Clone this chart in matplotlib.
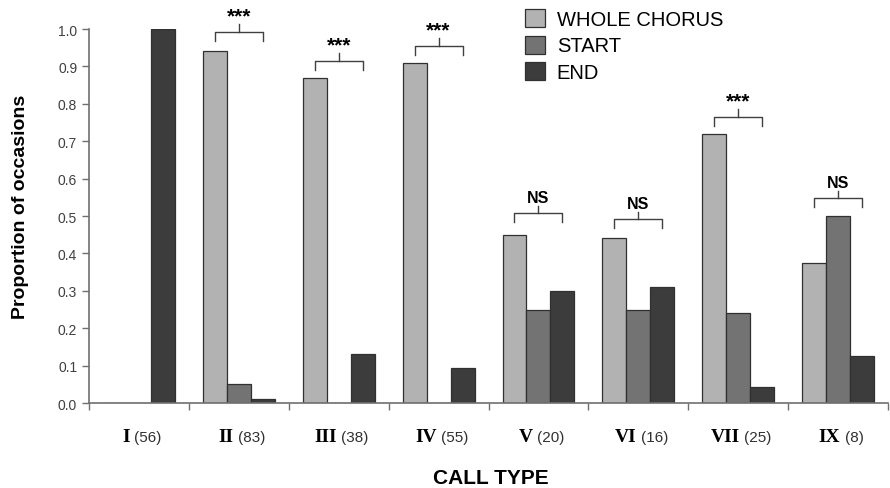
import numpy as np
import matplotlib.pyplot as plt
from matplotlib.offsetbox import TextArea, HPacker, AnnotationBbox

plt.rcParams['font.family'] = ['Liberation Sans', 'DejaVu Sans']

# call types, sample sizes and proportions
call_types = ['I', 'II', 'III', 'IV', 'V', 'VI', 'VII', 'IX']
n_calls = [56, 83, 38, 55, 20, 16, 25, 8]
whole_chorus = [0.0, 0.94, 0.868, 0.908, 0.45, 0.44, 0.72, 0.375]
start = [0.0, 0.05, 0.0, 0.0, 0.25, 0.25, 0.242, 0.50]
end = [1.0, 0.01, 0.13, 0.093, 0.30, 0.31, 0.042, 0.125]

# significance brackets: category index, level, label
sig_idx = [1, 2, 3, 4, 5, 6, 7]
sig_level = [0.993, 0.915, 0.955, 0.508, 0.492, 0.765, 0.548]
sig_text = ['***', '***', '***', 'NS', 'NS', '***', 'NS']

fig = plt.figure(figsize=(8.9, 4.89), dpi=100)
ax = fig.add_axes([0.1, 0.1738, 0.8978, 0.7648])

x = np.arange(len(call_types)) + 0.5
w = 0.24
ec = '#303030'
ax.bar(x - w, whole_chorus, w, color='#b2b2b2', edgecolor=ec, lw=0.9, label='WHOLE CHORUS')
ax.bar(x, start, w, color='#737373', edgecolor=ec, lw=0.9, label='START')
ax.bar(x + w, end, w, color='#3c3c3c', edgecolor=ec, lw=0.9, label='END')

# brackets from whole-chorus bar to end bar
for i, lev, txt in zip(sig_idx, sig_level, sig_text):
    x0, x1 = x[i] - w, x[i] + w
    ax.plot([x0, x0, x1, x1], [lev - 0.025, lev, lev, lev - 0.025],
            color='#404040', lw=1, clip_on=False)
    ax.plot([x[i], x[i]], [lev, lev + 0.02], color='#404040', lw=1, clip_on=False)
    if txt == 'NS':
        ax.text(x[i], lev + 0.022, txt, ha='center', va='bottom',
                fontsize=11.5, fontweight='bold')
    else:
        ax.text(x[i], lev + 0.018, txt, ha='center', va='bottom',
                fontsize=15, fontweight='bold')

ax.set_xlim(0, len(call_types))
ax.set_ylim(0, 1.0)
ax.set_yticks(np.arange(0, 1.01, 0.1))
ax.set_yticklabels([f'{v:.1f}' for v in np.arange(0, 1.01, 0.1)],
                   fontsize=10, color='#404040')
ax.set_xticks(np.arange(0, len(call_types) + 1))
ax.set_xticklabels([])
ax.tick_params(axis='both', direction='out', length=5, width=1, color='#707070')
for s in ['top', 'right']:
    ax.spines[s].set_visible(False)
for s in ['left', 'bottom']:
    ax.spines[s].set_color('#707070')
    ax.spines[s].set_linewidth(1.2)

# category labels: roman numeral in bold serif plus sample size
for xi, name, n in zip(x, call_types, n_calls):
    num = TextArea(name, textprops=dict(fontsize=14, fontweight='bold',
                                        family='Liberation Serif'))
    cnt = TextArea(f'({n})', textprops=dict(fontsize=11, color='#303030'))
    box = HPacker(children=[num, cnt], pad=0, sep=3, align='baseline')
    ab = AnnotationBbox(box, (xi + 0.03, -0.09), xycoords=('data', 'axes fraction'),
                        frameon=False, box_alignment=(0.5, 0.5), annotation_clip=False)
    ax.add_artist(ab)

ax.set_ylabel('Proportion of occasions', fontsize=14, fontweight='bold')
ax.yaxis.set_label_coords(-0.075, 0.527)
fig.text(0.551, 0.022, 'CALL TYPE', ha='center', va='center',
         fontsize=15, fontweight='bold')

ax.legend(loc='upper left', bbox_to_anchor=(0.535, 1.075), frameon=False,
          fontsize=14.5, handlelength=1.0, handleheight=1.0, handletextpad=0.6,
          labelspacing=0.33, borderaxespad=0)

fig.savefig('out.png', dpi=100)
